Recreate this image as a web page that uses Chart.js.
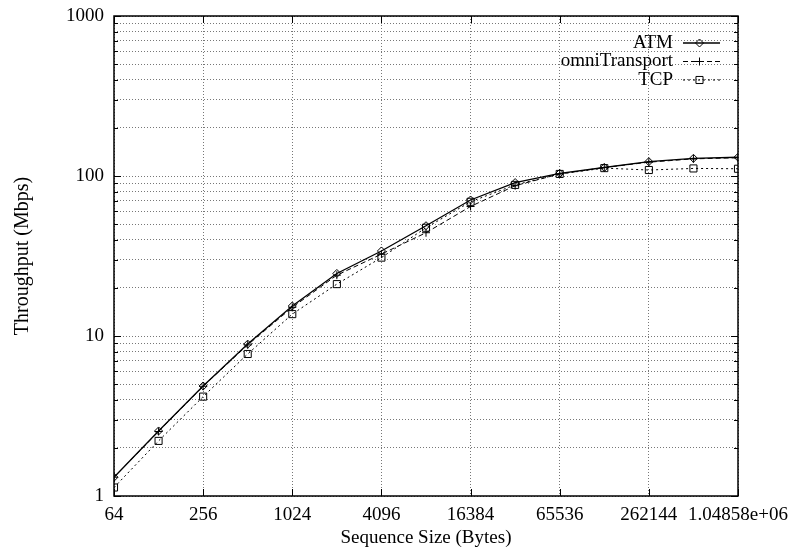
<!DOCTYPE html>
<html>
<head>
<meta charset="utf-8">
<script src="https://cdn.jsdelivr.net/npm/chart.js@4/dist/chart.umd.min.js"></script>
<style>
  body { margin: 0; background: #fff; }
  #wrap { width: 792px; height: 550px; }
</style>
</head>
<body>
<div id="wrap"><canvas id="tput" width="792" height="550"></canvas></div>
<script>
// message sizes in bytes (2^6 .. 2^20)
const sizes = [64, 128, 256, 512, 1024, 2048, 4096, 8192, 16384, 32768, 65536, 131072, 262144, 524288, 1048576];

// throughput in Mbps
const atm   = [1.31, 2.55, 4.87, 8.9, 15.4, 24.6, 34.0, 48.9, 70.8, 91, 104, 113, 123, 129, 131];
const omni  = [1.31, 2.53, 4.85, 8.8, 15.1, 24.0, 32.5, 44.2, 64.5, 87, 103, 113, 122, 128, 130];
const tcp   = [1.13, 2.21, 4.18, 7.72, 13.7, 21.1, 30.9, 47.5, 69, 88, 103, 112, 109, 111.5, 111];

const xTickValues = [64, 256, 1024, 4096, 16384, 65536, 262144, 1048576];
const xTickLabels = ['64', '256', '1024', '4096', '16384', '65536', '262144', '1.04858e+06'];
const yTickValues = [1, 2, 3, 4, 5, 6, 7, 8, 9, 10, 20, 30, 40, 50, 60, 70, 80, 90,
                     100, 200, 300, 400, 500, 600, 700, 800, 900, 1000];
const yMajor = [1, 10, 100, 1000];
const yTickLabels = ['1', '10', '100', '1000'];

const serif = 'Liberation Serif';
const fontTicks = { family: serif, size: 19 };

function pts(arr) {
  return sizes.map((s, i) => ({ x: s, y: arr[i] }));
}

// gnuplot-ish frame with inward ticks, plus the key in the top right corner
const framePlugin = {
  id: 'frame',
  afterDatasetsDraw(chart) {
    const c = chart.ctx;
    const a = chart.chartArea;
    const xs = chart.scales.x, ys = chart.scales.y;
    c.save();
    c.strokeStyle = '#000';
    c.lineWidth = 1;
    c.setLineDash([]);
    c.beginPath();
    yTickValues.forEach(v => {
      const y = Math.round(ys.getPixelForValue(v)) + 0.5;
      const len = yMajor.includes(v) ? 7 : 4;
      c.moveTo(a.left, y); c.lineTo(a.left + len, y);
      c.moveTo(a.right, y); c.lineTo(a.right - len, y);
    });
    xTickValues.forEach(v => {
      const x = Math.round(xs.getPixelForValue(v)) + 0.5;
      c.moveTo(x, a.bottom); c.lineTo(x, a.bottom - 7);
      c.moveTo(x, a.top); c.lineTo(x, a.top + 7);
    });
    c.stroke();
    c.lineWidth = 1.5;
    c.strokeRect(a.left, a.top, a.right - a.left, a.bottom - a.top);

    // key
    const textRight = a.right - 65;
    const x1 = a.right - 55, x2 = a.right - 18;
    c.font = '19px "' + serif + '"';
    c.textAlign = 'right';
    c.textBaseline = 'middle';
    chart.data.datasets.forEach((ds, i) => {
      const y = a.top + 27 + i * 18.5;
      c.fillStyle = '#000';
      c.fillText(ds.label, textRight, y);
      c.strokeStyle = ds.borderColor;
      c.lineWidth = ds.borderWidth;
      c.setLineDash(ds.borderDash || []);
      c.beginPath();
      c.moveTo(x1, y); c.lineTo(x2, y);
      c.stroke();
      c.setLineDash([]);
      c.lineWidth = 1;
      c.fillStyle = 'rgba(0,0,0,0)';
      Chart.helpers.drawPoint(c, {
        pointStyle: ds.pointStyle, radius: ds.pointRadius, rotation: 0, borderWidth: 1
      }, (x1 + x2) / 2 - 2, y);
    });
    c.restore();
  }
};

const ctx = document.getElementById('tput').getContext('2d');
const chart = new Chart(ctx, {
  type: 'line',
  data: {
    datasets: [{
      label: 'ATM',
      data: pts(atm),
      borderColor: '#000',
      borderWidth: 1.3,
      pointStyle: 'rectRot',
      pointRadius: 4,
      pointBorderWidth: 1,
      pointBorderColor: '#000',
      pointBackgroundColor: 'rgba(0,0,0,0)'
    }, {
      label: 'omniTransport',
      data: pts(omni),
      borderColor: '#000',
      borderWidth: 1,
      borderDash: [5, 3],
      pointStyle: 'cross',
      pointRadius: 4,
      pointBorderWidth: 1,
      pointBorderColor: '#000',
      pointBackgroundColor: 'rgba(0,0,0,0)'
    }, {
      label: 'TCP',
      data: pts(tcp),
      borderColor: '#000',
      borderWidth: 1,
      borderDash: [2, 3],
      pointStyle: 'rect',
      pointRadius: 5,
      pointBorderWidth: 1,
      pointBorderColor: '#000',
      pointBackgroundColor: 'rgba(0,0,0,0)'
    }]
  },
  options: {
    responsive: false,
    animation: false,
    events: [],
    layout: { padding: { top: 16, right: 54, left: 0, bottom: 0 } },
    plugins: { legend: { display: false }, tooltip: { enabled: false } },
    elements: { line: { tension: 0 } },
    scales: {
      x: {
        type: 'logarithmic',
        min: 64,
        max: 1048576,
        afterBuildTicks: (scale) => { scale.ticks = xTickValues.map(v => ({ value: v })); },
        afterFit: (scale) => {
          scale.height = 54;
          scale.paddingLeft = 0;
          scale.paddingRight = 0;
        },
        ticks: {
          autoSkip: false,
          maxRotation: 0,
          padding: 8,
          color: '#000',
          font: fontTicks,
          callback: (value) => xTickLabels[xTickValues.indexOf(value)]
        },
        grid: { color: '#777', lineWidth: 1, drawTicks: false },
        border: { display: false, dash: [1, 2] },
        title: {
          display: true,
          text: 'Sequence Size (Bytes)',
          color: '#000',
          font: fontTicks,
          padding: { top: 0, bottom: 1 }
        }
      },
      y: {
        type: 'logarithmic',
        min: 1,
        max: 1000,
        afterBuildTicks: (scale) => { scale.ticks = yTickValues.map(v => ({ value: v })); },
        afterFit: (scale) => {
          scale.width = 114;
          scale.paddingTop = 0;
          scale.paddingBottom = 0;
        },
        ticks: {
          autoSkip: false,
          padding: 10,
          color: '#000',
          font: fontTicks,
          callback: (value) => {
            const k = yMajor.indexOf(value);
            return k >= 0 ? yTickLabels[k] : '';
          }
        },
        grid: { color: '#777', lineWidth: 1, drawTicks: false },
        border: { display: false, dash: [1, 2] },
        title: {
          display: true,
          text: 'Throughput (Mbps)',
          color: '#000',
          font: { family: serif, size: 20 },
          padding: { top: 11, bottom: 0 }
        }
      }
    }
  },
  plugins: [framePlugin]
});
</script>
</body>
</html>
